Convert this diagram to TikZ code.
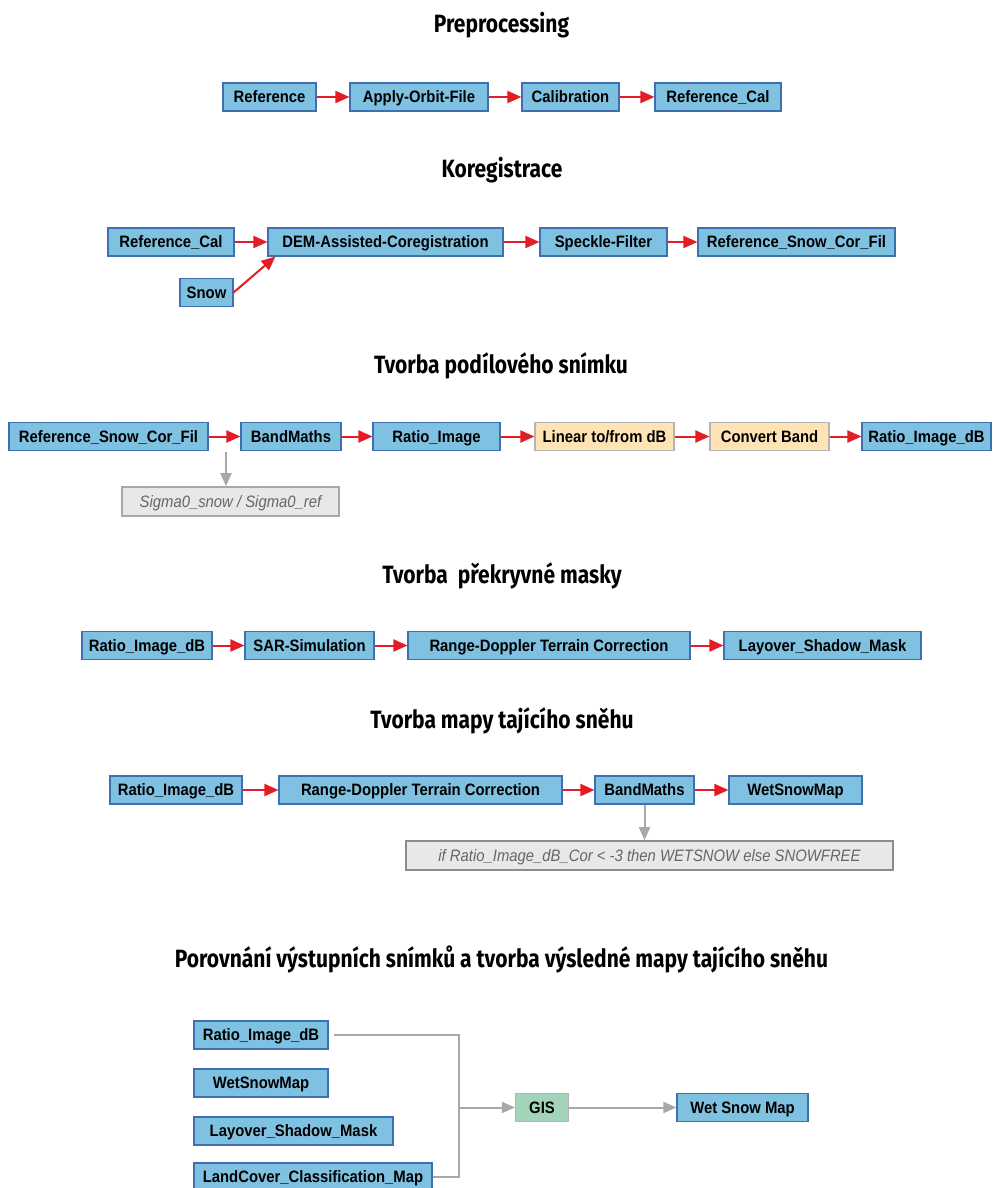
\documentclass[tikz,border=0pt]{standalone}
\usepackage{fontspec}
\setmainfont[FakeStretch=0.9]{Liberation Sans}
\newfontfamily\headfont[FakeStretch=0.84]{Fira Sans}
\usetikzlibrary{arrows.meta}
\definecolor{boxblue}{HTML}{7FC1E1}
\definecolor{boxedge}{HTML}{3F6FB0}
\definecolor{flowred}{HTML}{E21D24}
\definecolor{opfill}{HTML}{FFE3B5}
\definecolor{opedge}{HTML}{B4B4B4}
\definecolor{notefill}{HTML}{E8E8E8}
\definecolor{gisfill}{HTML}{A3D3B8}
\definecolor{linegray}{HTML}{A8A8A8}

\begin{document}
\begin{tikzpicture}[x=1pt,y=-1pt,
  every node/.style={font=\bfseries\fontsize{16.5}{19}\selectfont},
  title/.style={anchor=base,font=\headfont\bfseries\fontsize{25}{30}\selectfont},
  box/.style={minimum height=28pt,inner sep=2pt,line width=1.1pt,text height=13pt,text depth=1.2pt},
  prod/.style={box,draw=boxedge,fill=boxblue},
  oper/.style={box,draw=opedge,fill=opfill},
  gisbox/.style={box,draw=opedge,fill=gisfill},
  note/.style={box,draw=linegray,fill=notefill,line width=1.6pt,minimum height=29pt,
    text=black!60,font=\itshape\mdseries\fontsize{16.5}{19}\selectfont},
  flow/.style={draw=flowred,line width=2pt,-{Triangle[length=14pt,width=12pt]}},
  gline/.style={draw=linegray,line width=2pt},
  garrow/.style={gline,-{Triangle[length=13pt,width=11pt]}}]
\useasboundingbox (0,0) rectangle (993,1188);

% Preprocessing
\node[title] (t1) at (501.5,33) {Preprocessing};
\node[prod,minimum width=93pt] (ref) at (269.5,97) {Reference};
\node[prod,minimum width=138pt] (orbit) at (419,97) {Apply-Orbit-File};
\node[prod,minimum width=97pt] (cal) at (570.5,97) {Calibration};
\node[prod,minimum width=126pt] (refcal) at (718,97) {Reference\_Cal};
\draw[flow] (ref) -- (orbit);
\draw[flow] (orbit) -- (cal);
\draw[flow] (cal) -- (refcal);

% Koregistrace
\node[title] (t2) at (502,177) {Koregistrace};
\node[prod,minimum width=126pt] (refcalb) at (171,242) {Reference\_Cal};
\node[prod,minimum width=53pt] (snow) at (206.5,292.5) {Snow};
\node[prod,minimum width=235pt] (dem) at (385.5,242) {DEM-Assisted-Coregistration};
\node[prod,minimum width=127pt] (speckle) at (603.5,242) {Speckle-Filter};
\node[prod,minimum width=197pt] (rscf) at (796.5,242) {Reference\_Snow\_Cor\_Fil};
\draw[flow] (refcalb) -- (dem);
\draw[flow] (snow.east) -- ([xshift=8pt]dem.south west);
\draw[flow] (dem) -- (speckle);
\draw[flow] (speckle) -- (rscf);

% Tvorba podiloveho snimku
\node[title] (t3) at (501,373) {Tvorba podílového snímku};
\node[prod,minimum width=199pt] (rscfb) at (108.5,436.5) {Reference\_Snow\_Cor\_Fil};
\node[prod,minimum width=100pt] (bmath) at (291,436.5) {BandMaths};
\node[prod,minimum width=127pt] (ratio) at (436.5,436.5) {Ratio\_Image};
\node[oper,minimum width=139pt] (lindb) at (604.5,436.5) {Linear to/from dB};
\node[oper,minimum width=119pt] (conv) at (769.5,436.5) {Convert Band};
\node[prod,minimum width=129pt] (ratiodb) at (926.5,436.5) {Ratio\_Image\_dB};
\node[note,minimum width=217pt] (sigma) at (230.5,501.5) {Sigma0\_snow / Sigma0\_ref};
\coordinate (tap) at (226,452);
\draw[flow] (rscfb) -- (bmath);
\draw[flow] (bmath) -- (ratio);
\draw[flow] (ratio) -- (lindb);
\draw[flow] (lindb) -- (conv);
\draw[flow] (conv) -- (ratiodb);
\draw[garrow] (tap) -- (tap |- sigma.north);

% Tvorba prekryvne masky
\node[title] (t4) at (502,583) {Tvorba\ \ překryvné masky};
\node[prod,minimum width=130pt] (ratiodbb) at (147,645.5) {Ratio\_Image\_dB};
\node[prod,minimum width=129pt] (sarsim) at (309.5,645.5) {SAR-Simulation};
\node[prod,minimum width=282pt] (rdtc) at (549,645.5) {Range-Doppler Terrain Correction};
\node[prod,minimum width=197pt] (lsmask) at (822.5,645.5) {Layover\_Shadow\_Mask};
\draw[flow] (ratiodbb) -- (sarsim);
\draw[flow] (sarsim) -- (rdtc);
\draw[flow] (rdtc) -- (lsmask);

% Tvorba mapy tajiciho snehu
\node[title] (t5) at (502,728) {Tvorba mapy tajícího sněhu};
\node[prod,minimum width=132pt] (ratiodbc) at (176,790) {Ratio\_Image\_dB};
\node[prod,minimum width=283pt] (rdtcb) at (420.5,790) {Range-Doppler Terrain Correction};
\node[prod,minimum width=99pt] (bmathb) at (644.5,790) {BandMaths};
\node[prod,minimum width=133pt] (wsmap) at (795.5,790) {WetSnowMap};
\node[note,minimum width=487pt,draw=black!45] (cond) at (649.5,855.5)
  {if Ratio\_Image\_dB\_Cor < -3 then WETSNOW else SNOWFREE};
\draw[flow] (ratiodbc) -- (rdtcb);
\draw[flow] (rdtcb) -- (bmathb);
\draw[flow] (bmathb) -- (wsmap);
\draw[garrow] (bmathb) -- (bmathb |- cond.north);

% Porovnani vystupnich snimku
\node[title] (t6) at (501.5,967) {Porovnání výstupních snímků a tvorba výsledné mapy tajícího sněhu};
\node[prod,minimum width=134pt] (in1) at (261,1035) {Ratio\_Image\_dB};
\node[prod,minimum width=134pt] (in2) at (261,1083) {WetSnowMap};
\node[prod,minimum width=199pt] (in3) at (293.5,1131) {Layover\_Shadow\_Mask};
\node[prod,minimum width=238pt] (in4) at (313,1177) {LandCover\_Classification\_Map};
\node[gisbox,minimum width=53pt] (gis) at (542,1107.5) {GIS};
\node[prod,minimum width=131pt] (final) at (742.5,1107.5) {Wet Snow Map};
\coordinate (join) at (459,1107.5);
\draw[gline] ([xshift=5pt]in1.east) -| (join) |- (in4.east);
\draw[garrow] (join) -- (gis);
\draw[garrow] (gis) -- (final);
\end{tikzpicture}
\end{document}
